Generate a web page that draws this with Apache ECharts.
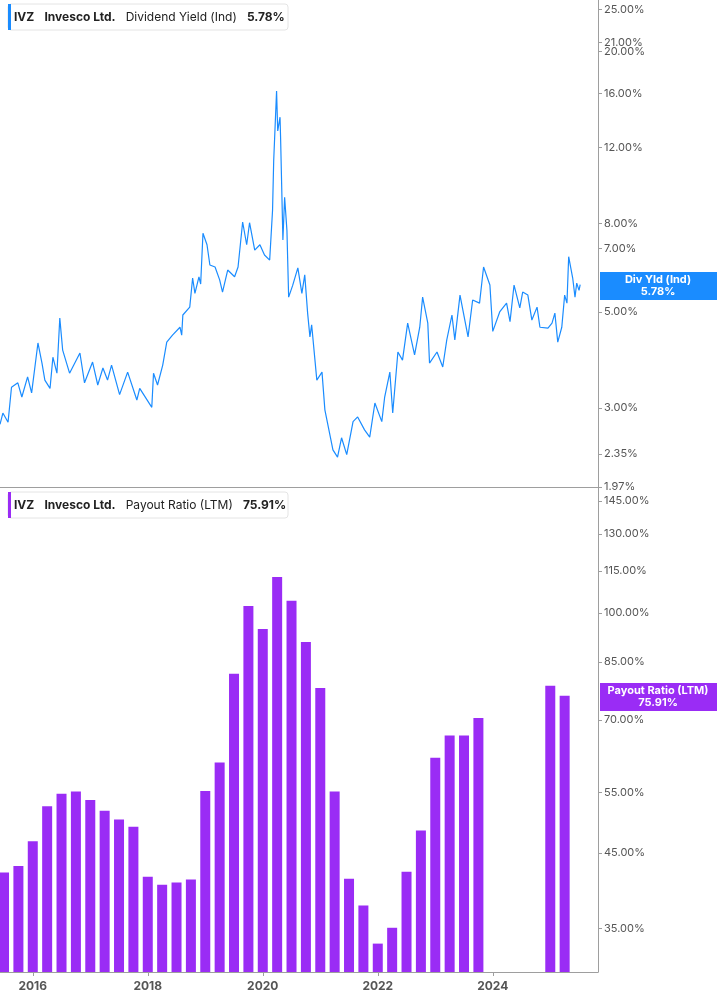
<!DOCTYPE html>
<html>
<head>
<meta charset="utf-8">
<script src="https://cdn.jsdelivr.net/npm/echarts@6/dist/echarts.min.js"></script>
<style>
  html, body { margin: 0; padding: 0; background: #fff; }
  #chart { width: 717px; height: 1005px; }
</style>
</head>
<body>
<div id="chart"></div>
<script>
// Dividend yield (%), dates as decimal years
const yieldDates = [2015.43,2015.48,2015.57,2015.63,2015.74,2015.81,2015.91,2015.98,2016.09,2016.16,2016.21,2016.30,2016.35,2016.42,2016.47,2016.52,2016.64,2016.82,2016.90,2017.04,2017.13,2017.22,2017.30,2017.37,2017.51,2017.65,2017.81,2017.86,2018.07,2018.10,2018.17,2018.26,2018.33,2018.43,2018.56,2018.59,2018.61,2018.73,2018.78,2018.82,2018.89,2018.92,2018.96,2019.03,2019.08,2019.17,2019.25,2019.30,2019.39,2019.51,2019.57,2019.65,2019.72,2019.77,2019.86,2019.95,2020.03,2020.12,2020.17,2020.19,2020.24,2020.26,2020.30,2020.31,2020.35,2020.38,2020.42,2020.45,2020.52,2020.61,2020.68,2020.73,2020.78,2020.82,2020.85,2020.94,2021.03,2021.08,2021.22,2021.30,2021.37,2021.46,2021.57,2021.65,2021.77,2021.86,2021.95,2022.07,2022.12,2022.21,2022.26,2022.35,2022.43,2022.52,2022.64,2022.73,2022.78,2022.87,2022.90,2023.03,2023.13,2023.20,2023.29,2023.34,2023.43,2023.57,2023.65,2023.77,2023.84,2023.95,2024.00,2024.12,2024.24,2024.30,2024.37,2024.47,2024.52,2024.61,2024.68,2024.77,2024.82,2024.96,2025.03,2025.08,2025.13,2025.20,2025.25,2025.29,2025.32,2025.39,2025.43,2025.46,2025.50,2025.52];
const yieldValues = [2.75,2.92,2.78,3.35,3.43,3.18,3.54,3.25,4.24,3.81,3.48,3.33,3.93,3.61,4.84,4.08,3.61,4.02,3.43,3.83,3.39,3.71,3.48,3.77,3.22,3.63,3.13,3.33,3.01,3.61,3.39,3.77,4.26,4.42,4.61,4.42,4.92,5.13,5.99,5.52,6.03,5.80,7.60,7.15,6.42,6.35,5.93,5.56,6.25,6.03,6.35,8.07,7.15,8.04,6.95,7.15,6.77,6.59,8.59,11.2,16.2,13.1,14.1,12.6,7.33,9.2,7.72,5.41,5.76,6.32,5.52,6.09,4.97,4.38,4.67,3.48,3.63,2.97,2.40,2.31,2.56,2.34,2.79,2.86,2.67,2.57,3.08,2.79,3.18,3.63,2.92,4.04,3.87,4.71,3.98,4.61,5.41,4.71,3.81,4.04,3.73,4.31,4.92,4.31,5.47,4.38,5.33,5.24,6.35,5.77,4.51,5.0,5.24,4.75,5.77,5.11,5.56,5.47,4.79,5.13,4.61,4.59,4.71,4.97,4.26,4.61,5.47,5.24,6.71,5.99,5.41,5.83,5.61,5.78];

// Payout ratio (LTM, %) quarterly
const payoutDates = [2015.5,2015.75,2016,2016.25,2016.5,2016.75,2017,2017.25,2017.5,2017.75,2018,2018.25,2018.5,2018.75,2019,2019.25,2019.5,2019.75,2020,2020.25,2020.5,2020.75,2021,2021.25,2021.5,2021.75,2022,2022.25,2022.5,2022.75,2023,2023.25,2023.5,2023.75,2024,2024.25,2024.5,2024.75,2025,2025.25];
const payoutValues = [42.2,43.1,46.8,52.6,54.8,55.2,53.7,51.8,50.3,49.1,41.6,40.5,40.8,41.2,55.3,60.8,81.7,102.3,94.8,112.7,104.1,90.8,77.9,55.2,41.3,37.8,33.3,35.1,42.3,48.5,61.8,66.5,66.5,70.5,null,null,null,null,78.5,75.91];

const yieldTicks = [25, 21, 20, 16, 12, 8, 7, 5, 3, 2.35, 1.97];
const payoutTicks = [149, 145, 130, 115, 100, 85, 70, 55, 45, 35];
const yearTicks = [2016, 2018, 2020, 2022, 2024];

const BLUE = '#1a8cff';
const PURPLE = '#9a2cf5';
const AXIS = '#9e9e9e';
const FONT = 'Inter, "Noto Sans", sans-serif';

const chart = echarts.init(document.getElementById('chart'));

function pctAxis(gridIndex, ticks, min, max) {
    return {
        type: 'value', gridIndex: gridIndex, position: 'right',
        min: Math.log(min), max: Math.log(max),
        axisLine: { show: true, lineStyle: { color: AXIS } },
        axisTick: { show: true, length: 4, customValues: ticks.map(Math.log), lineStyle: { color: AXIS } },
        splitLine: { show: false },
        axisLabel: {
            customValues: ticks.map(Math.log), color: '#555', fontSize: 11, fontFamily: FONT, margin: 6,
            formatter: v => Math.exp(v).toFixed(2) + '%'
        }
    };
}

function timeAxis(gridIndex, showLabels) {
    return {
        type: 'value', gridIndex: gridIndex, min: 2015.43, max: 2025.83,
        axisLine: { show: true, onZero: false, lineStyle: { color: AXIS } },
        axisTick: { show: showLabels, customValues: yearTicks, length: 4, lineStyle: { color: AXIS } },
        splitLine: { show: false },
        axisLabel: {
            show: showLabels, customValues: yearTicks, color: '#555', fontSize: 12, fontWeight: 'bold',
            fontFamily: FONT, formatter: v => String(Math.round(v))
        }
    };
}

function headerBox(y, color, parts) {
    return [
        { type: 'rect', shape: { x: 8, y: y, width: 280, height: 26, r: 3 },
          style: { fill: '#fff', stroke: '#e4e4e4', lineWidth: 1 } },
        { type: 'rect', shape: { x: 8, y: y, width: 3, height: 26 }, style: { fill: color } },
        { type: 'text', x: 14, y: y + 13,
          style: {
              text: parts, fontFamily: FONT, fontSize: 12, verticalAlign: 'middle',
              rich: { b: { fontWeight: 'bold', fontSize: 12, fill: '#222', fontFamily: FONT },
                      n: { fontSize: 12, fill: '#222', fontFamily: FONT } }
          } }
    ];
}

function sideTag(y, color, l1, l2) {
    return [
        { type: 'rect', shape: { x: 600, y: y, width: 117, height: 28 }, style: { fill: color } },
        { type: 'text', x: 658, y: y + 14,
          style: { text: l1 + '\n' + l2, fill: '#fff', fontSize: 11, fontWeight: 'bold', fontFamily: FONT,
                   align: 'center', verticalAlign: 'middle', lineHeight: 12 } }
    ];
}

chart.setOption({
    animation: false,
    grid: [
        { left: 0, right: 119, top: 0, height: 487 },
        { left: 0, right: 119, top: 487, height: 485 }
    ],
    xAxis: [timeAxis(0, false), timeAxis(1, true)],
    yAxis: [pctAxis(0, yieldTicks, 1.97, 26.3), pctAxis(1, payoutTicks, 30.3, 152)],
    series: [
        {
            type: 'line', xAxisIndex: 0, yAxisIndex: 0, showSymbol: false,
            lineStyle: { color: BLUE, width: 1.2 },
            data: yieldDates.map((d, i) => [d, Math.log(yieldValues[i])])
        },
        {
            type: 'bar', xAxisIndex: 1, yAxisIndex: 1, barWidth: 10,
            itemStyle: { color: PURPLE },
            data: payoutDates.map((d, i) => [d, payoutValues[i] == null ? null : Math.log(payoutValues[i])])
        }
    ],
    graphic: [
        ...headerBox(4, BLUE, '{b|IVZ}   {b|Invesco Ltd.}   {n|Dividend Yield (Ind)}   {b|5.78%}'),
        ...headerBox(492, PURPLE, '{b|IVZ}   {b|Invesco Ltd.}   {n|Payout Ratio (LTM)}   {b|75.91%}'),
        ...sideTag(272, BLUE, 'Div Yld (Ind)', '5.78%'),
        ...sideTag(683, PURPLE, 'Payout Ratio (LTM)', '75.91%')
    ]
});
</script>
</body>
</html>
